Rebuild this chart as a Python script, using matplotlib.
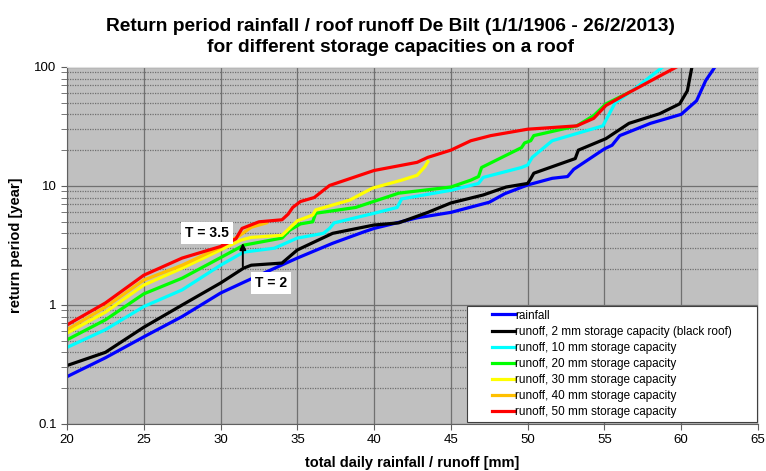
import numpy as np
import matplotlib.pyplot as plt
from matplotlib.ticker import FixedLocator, NullFormatter
from matplotlib.legend_handler import HandlerLine2D

plt.rcParams['font.family'] = ['Liberation Sans', 'DejaVu Sans']

# (x = daily amount in mm, y = return period in years)
rain_x = [20, 22.5, 25, 27.5, 30, 31.5, 33, 35, 37.3, 39.3, 40, 42.8, 45, 47.5, 48.5, 50,
          51.6, 52.6, 53, 55, 55.5, 56, 58, 60, 61, 61.6, 62.2]
rain_y = [0.25, 0.36, 0.54, 0.8, 1.26, 1.55, 1.9, 2.48, 3.3, 4.1, 4.4, 5.4, 6.0, 7.3, 8.6, 10.2,
          11.6, 12.0, 13.8, 20.5, 22, 26.5, 33.6, 40, 52, 77, 100]

r2_x = [20, 22.5, 25, 27.5, 30, 31.5, 32, 34, 35, 37.3, 40, 41.6, 43.5, 45, 47.1, 48.6, 50,
        50.2, 50.4, 53.1, 53.3, 55.1, 56.6, 58.6, 59.9, 60.4, 60.7]
r2_y = [0.31, 0.40, 0.65, 1.0, 1.53, 2.04, 2.16, 2.25, 2.9, 4.0, 4.7, 4.9, 6.0, 7.2, 8.4, 9.8, 10.5,
        11.5, 12.8, 17, 20, 25, 33.6, 40.5, 49, 63, 100]

r10_x = [20, 22.5, 25, 27.5, 30, 31.5, 33.5, 35, 36.7, 37.1, 37.4, 40, 41.5, 41.8, 45, 46.8, 47.1,
         49.6, 50.0, 50.3, 51.6, 54.9, 55.3, 55.7, 57, 58.8]
r10_y = [0.44, 0.62, 0.97, 1.34, 2.16, 2.78, 3.0, 3.65, 4.0, 4.4, 4.9, 5.9, 6.6, 7.8, 9.2, 10.5, 11.8,
         14.3, 15, 17.4, 24, 32, 40, 50, 66, 100]

r20_x = [20, 22.5, 25, 27.5, 30, 31.5, 34, 34.5, 35.2, 36.0, 36.2, 38.8, 41.6, 45, 46.3, 46.8, 47.0,
         49.6, 49.8, 50.2, 50.4, 53.2, 54.3, 55.1, 56.6]
r20_y = [0.51, 0.75, 1.24, 1.68, 2.5, 3.18, 3.65, 4.25, 4.8, 5.0, 5.9, 6.6, 8.7, 9.8, 11.2, 12, 14.3,
         21, 23, 24, 26.5, 32, 39, 49, 61]

r30_x = [20, 22.5, 25, 27.5, 30, 31.3, 32, 34, 35, 36.0, 36.2, 38.4, 39.9, 41.8, 42.8, 43.3, 43.5]
r30_y = [0.58, 0.87, 1.47, 2.04, 2.9, 3.5, 3.7, 3.85, 5.1, 5.7, 6.3, 7.6, 9.6, 11.2, 12.3, 14.5, 16]

r40_x = [20, 22.5, 25, 27.5, 30, 31.2, 32, 33]
r40_y = [0.62, 0.96, 1.62, 2.16, 3.06, 3.8, 4.5, 4.9]

r50_x = [20, 22.5, 25, 27.5, 30, 31.0, 31.4, 32.5, 34.0, 34.4, 34.7, 35.2, 36.1, 37.1, 40, 42.8,
         43.5, 45, 46.3, 47.6, 50, 53.2, 54.3, 55.1, 56.6, 59.7]
r50_y = [0.68, 1.04, 1.78, 2.48, 3.1, 3.6, 4.4, 5.0, 5.2, 5.8, 6.6, 7.4, 8.0, 10.1, 13.5, 15.8,
         17.4, 20, 24, 26.5, 30, 32, 37, 47.5, 61, 100]

series = [
    (rain_x, rain_y, '#0000FF', 'rainfall'),
    (r2_x, r2_y, '#000000', 'runoff, 2 mm storage capacity (black roof)'),
    (r10_x, r10_y, '#00FFFF', 'runoff, 10 mm storage capacity'),
    (r20_x, r20_y, '#00FF00', 'runoff, 20 mm storage capacity'),
    (r30_x, r30_y, '#FFFF00', 'runoff, 30 mm storage capacity'),
    (r40_x, r40_y, '#FFC000', 'runoff, 40 mm storage capacity'),
    (r50_x, r50_y, '#FF0000', 'runoff, 50 mm storage capacity'),
]

arrow_x = 31.45
t_low, t_high = 2.0, 3.5

fig = plt.figure(figsize=(7.66, 4.71), dpi=100)
ax = fig.add_axes([0.0875, 0.0998, 0.902, 0.758])
ax.set_facecolor('#C0C0C0')

for xs, ys, c, lab in series:
    ax.plot(xs, ys, color=c, lw=2.3, label=lab, solid_joinstyle='round')

ax.set_yscale('log')
ax.set_xlim(20, 65)
ax.set_ylim(0.1, 100)
ax.set_xticks(np.arange(20, 66, 5))
ax.yaxis.set_major_locator(FixedLocator([0.1, 1, 10, 100]))
ax.set_yticklabels(['0.1', '1', '10', '100'])
minors = [m * 10.0**e for e in (-1, 0, 1) for m in range(2, 10)]
ax.yaxis.set_minor_locator(FixedLocator(minors))
ax.yaxis.set_minor_formatter(NullFormatter())

ax.grid(True, which='major', axis='both', color='#707070', lw=0.9, ls='-')
ax.grid(True, which='minor', axis='y', color='#707070', lw=0.9, ls=(0, (1, 1)))
ax.set_axisbelow(True)

ax.tick_params(axis='both', which='major', direction='out', length=4, labelsize=9.5, color='#606060')
ax.tick_params(axis='y', which='minor', direction='out', length=4, color='#606060')
for s in ['left', 'bottom']:
    ax.spines[s].set_color('#606060')
for s in ['top', 'right']:
    ax.spines[s].set_color('#E0E0E0')

ax.annotate('', xy=(arrow_x, t_high), xytext=(arrow_x, t_low),
            arrowprops=dict(arrowstyle='-|>', color='black', lw=1.4, mutation_scale=9))
box = dict(boxstyle='square,pad=0.3', fc='white', ec='none')
ax.text(29.1, 4.05, 'T = 3.5', fontsize=10, fontweight='bold', ha='center', va='center', bbox=box)
ax.text(33.3, 1.53, 'T = 2', fontsize=10, fontweight='bold', ha='center', va='center', bbox=box)

leg = ax.legend(loc='lower left', bbox_to_anchor=(0.579, 0.006, 0.4196, 0.3), mode='expand',
                fontsize=8.5, handlelength=3.75, handletextpad=0.05,
                borderaxespad=0, labelspacing=0.35, fancybox=False, framealpha=1,
                edgecolor='#404040', borderpad=0.3,
                handler_map={plt.Line2D: HandlerLine2D(xpad=1.8)})
leg.get_frame().set_linewidth(0.8)

ax.set_xlabel('total daily rainfall / runoff [mm]', fontsize=10.5, fontweight='bold', labelpad=7)
ax.set_ylabel('return period [year]', fontsize=10.5, fontweight='bold', labelpad=8)
fig.suptitle('Return period rainfall / roof runoff De Bilt (1/1/1906 - 26/2/2013)\n'
             'for different storage capacities on a roof',
             fontsize=13.8, fontweight='bold', x=0.51, y=0.962, va='top', linespacing=1.33)

fig.savefig('out.png', dpi=100)
